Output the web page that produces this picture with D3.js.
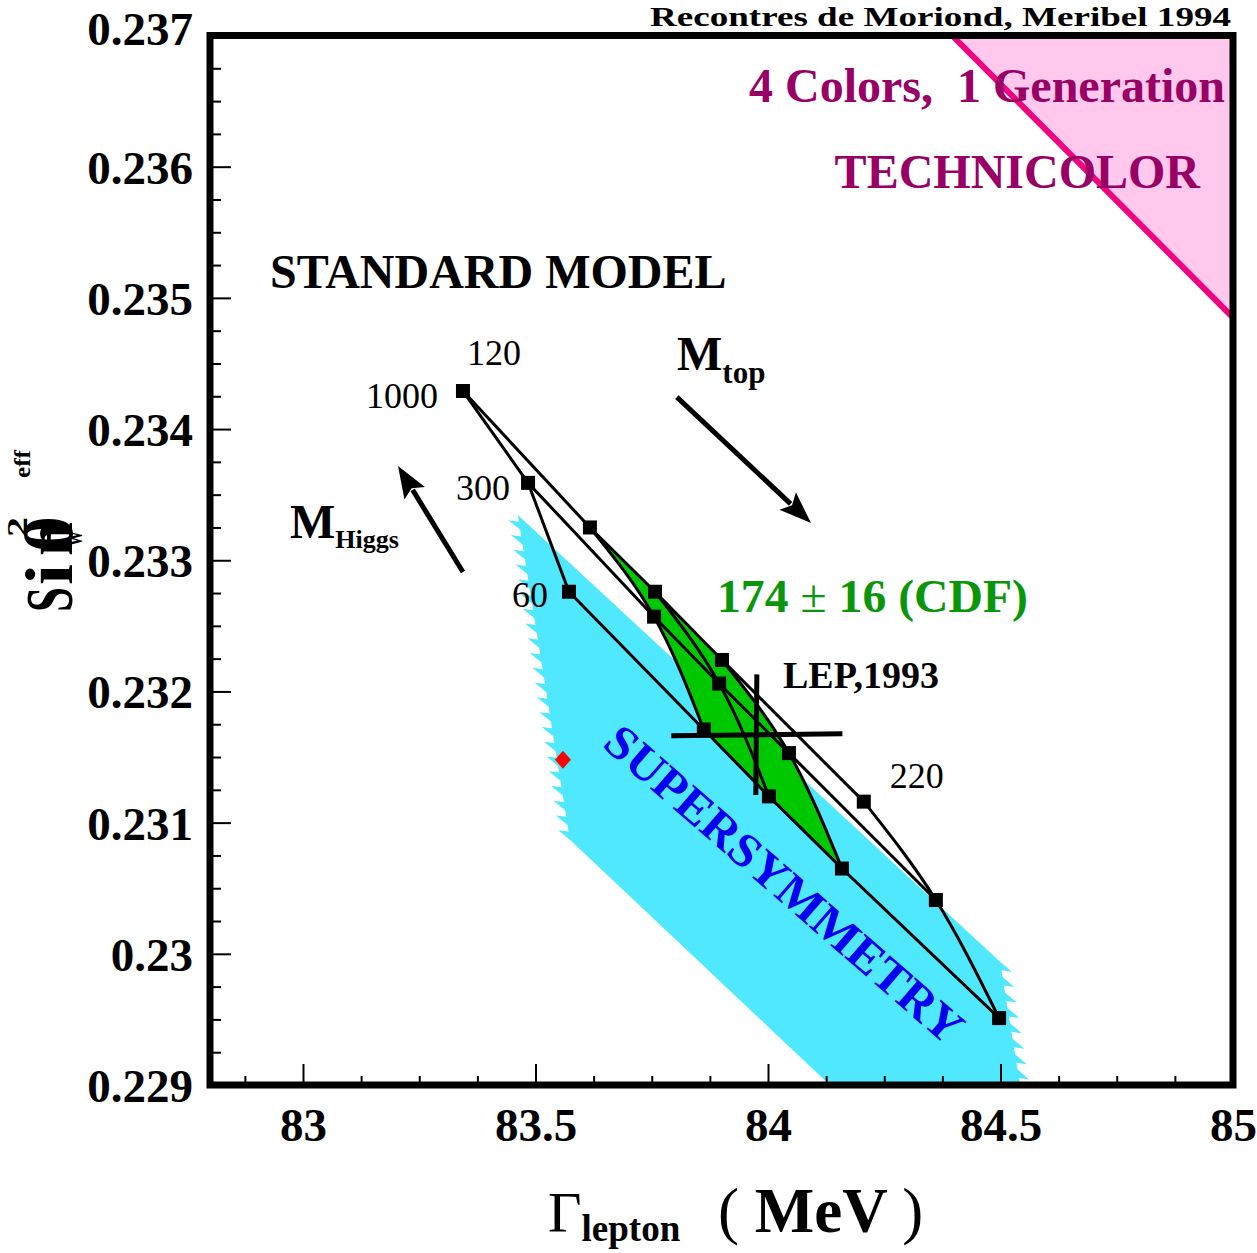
<!DOCTYPE html>
<html><head><meta charset="utf-8">
<script src="https://cdn.jsdelivr.net/npm/d3@7"></script>
<style>
body{margin:0;background:#fff;}
text{font-family:"Liberation Serif","Times New Roman",serif;white-space:pre;}
</style></head><body>
<svg id="chart" width="1257" height="1253"></svg>
<script>
// ---------- data ----------
const xTicks = [83, 83.5, 84, 84.5, 85];
const xTickLabels = ["83", "83.5", "84", "84.5", "85"];
const yTicks = [0.229, 0.230, 0.231, 0.232, 0.233, 0.234, 0.235, 0.236, 0.237];
const yTickLabels = ["0.229", "0.23", "0.231", "0.232", "0.233", "0.234", "0.235", "0.236", "0.237"];

const topMasses = [120, 158, 174, 190, 220];       // GeV
const higgsMasses = [60, 300, 1000];               // GeV
// rows: top mass, columns: Higgs mass
const gammaGrid = [
  [83.572, 83.484, 83.344],
  [83.862, 83.755, 83.617],
  [84.002, 83.895, 83.757],
  [84.159, 84.045, 83.901],
  [84.497, 84.361, 84.206]
];
const sin2Grid = [
  [0.23276, 0.23359, 0.23429],
  [0.23171, 0.23257, 0.23325],
  [0.23120, 0.23206, 0.23276],
  [0.23065, 0.23153, 0.23224],
  [0.22951, 0.23041, 0.23116]
];

const lepGamma = 83.976, lepGammaErr = 0.184;
const lepSin2 = 0.23167, lepSin2Err = 0.00046;

const susyPointGamma = 83.559, susyPointSin2 = 0.23148;
const susyGamma = [83.462, 84.499, 84.542, 84.133, 83.574];
const susySin2  = [0.233345, 0.22994, 0.2290, 0.2290, 0.23087];

const technicolorGamma = [84.396, 85.0, 85.0];
const technicolorSin2  = [0.2370, 0.2370, 0.23485];

const mtopArrowGamma = [83.804, 84.0925], mtopArrowSin2 = [0.234244, 0.233284];
const mhiggsArrowGamma = [83.344, 83.2043], mhiggsArrowSin2 = [0.23291, 0.233718];

// ---------- setup ----------
const svg = d3.select("#chart");
const X0 = 210, X1 = 1233, Y0 = 35.5, Y1 = 1085;
const x = d3.scaleLinear().domain([82.8, 85]).range([X0, X1]);
const y = d3.scaleLinear().domain([0.229, 0.237]).range([Y1, Y0]);

svg.append("defs").append("clipPath").attr("id", "plotclip")
  .append("rect").attr("x", X0).attr("y", Y0).attr("width", X1 - X0).attr("height", Y1 - Y0);
const plot = svg.append("g").attr("clip-path", "url(#plotclip)");

// technicolor region
const tcPts = technicolorGamma.map((g, i) => [x(g), y(technicolorSin2[i])]);
plot.append("path").attr("d", d3.line()(tcPts) + "Z").attr("fill", "#ffc8ec");
plot.append("line")
  .attr("x1", tcPts[0][0]).attr("y1", tcPts[0][1])
  .attr("x2", tcPts[2][0]).attr("y2", tcPts[2][1])
  .attr("stroke", "#f0037e").attr("stroke-width", 6);

// supersymmetry region with jagged edges
function jagged(p0, p1, side) {
  const dx = p1[0] - p0[0], dy = p1[1] - p0[1];
  const len = Math.hypot(dx, dy);
  const ux = dx / len, uy = dy / len;
  let nx = -uy, ny = ux;
  if (Math.sign(nx) !== side) { nx = -nx; ny = -ny; }
  const n = Math.max(1, Math.round(len / 15));
  const pts = [];
  for (let k = 0; k < n; k++) {
    const t = k / n;
    const bx = p0[0] + dx * t, by = p0[1] + dy * t;
    pts.push([bx, by]);
    const step = len / n;
    pts.push([bx + nx * 10 + ux * step * 0.75, by + ny * 10 + uy * step * 0.75]);
    pts.push([bx + ux * step * 0.55, by + uy * step * 0.55]);
  }
  pts.push(p1);
  return pts;
}
const sp = susyGamma.map((g, i) => [x(g), y(susySin2[i])]);
const susyOutline = [sp[0]]
  .concat(jagged(sp[1], sp[2], 1))
  .concat([[sp[2][0], sp[2][1] + 20], [sp[3][0] + 10, sp[3][1] + 20], sp[3], sp[4]])
  .concat(jagged(sp[4], sp[0], -1));
plot.append("path").attr("d", d3.line()(susyOutline) + "Z").attr("fill", "#50e8ff");

// grid point accessor
const P = (i, j) => [x(gammaGrid[i][j]), y(sin2Grid[i][j])];
const lineLin = d3.line();
const lineNat = d3.line().curve(d3.curveNatural);

// green band (174 +- 16)
const c158 = [P(1, 2), P(1, 1), P(1, 0)];
const c190 = [P(3, 0), P(3, 1), P(3, 2)];
const greenD = lineNat(c158) + "L" + P(2, 0).join(",") + lineNat(c190).replace("M", "L") + "L" + P(2, 2).join(",") + "Z";
plot.append("path").attr("d", greenD).attr("fill", "#00c800");

// SUPERSYMMETRY label (under lines)
svg.append("text").attr("transform", "translate(601,746) rotate(41)")
  .attr("font-size", 48).attr("font-weight", "bold").attr("fill", "#0000ee")
  .attr("textLength", 458).attr("lengthAdjust", "spacingAndGlyphs")
  .text("SUPERSYMMETRY");

// constant-Higgs lines
higgsMasses.forEach((mh, j) => {
  const pts = topMasses.map((mt, i) => P(i, j));
  plot.append("path").attr("d", lineLin(pts)).attr("fill", "none")
    .attr("stroke", "#000").attr("stroke-width", 3);
});
// constant-top curves
topMasses.forEach((mt, i) => {
  const pts = higgsMasses.map((mh, j) => P(i, j));
  plot.append("path").attr("d", (i === 0 ? lineLin : lineNat)(pts)).attr("fill", "none")
    .attr("stroke", "#000").attr("stroke-width", 3);
});
// markers
topMasses.forEach((mt, i) => higgsMasses.forEach((mh, j) => {
  const p = P(i, j);
  plot.append("rect").attr("x", p[0] - 7).attr("y", p[1] - 7)
    .attr("width", 14).attr("height", 14).attr("fill", "#000");
}));

// LEP cross
plot.append("line").attr("x1", x(lepGamma - lepGammaErr)).attr("x2", x(lepGamma + lepGammaErr))
  .attr("y1", y(lepSin2) + 1).attr("y2", y(lepSin2) - 1).attr("stroke", "#000").attr("stroke-width", 5);
plot.append("line").attr("x1", x(lepGamma)).attr("x2", x(lepGamma) - 1)
  .attr("y1", y(lepSin2 + lepSin2Err)).attr("y2", y(lepSin2 - lepSin2Err)).attr("stroke", "#000").attr("stroke-width", 5);

// red diamond
{
  const cx = x(susyPointGamma), cy = y(susyPointSin2);
  plot.append("path").attr("d", `M${cx},${cy - 9}L${cx + 8},${cy}L${cx},${cy + 9}L${cx - 8},${cy}Z`).attr("fill", "#ff0000");
}

// arrows
function arrow(gs, ss) {
  const a = [x(gs[0]), y(ss[0])], b = [x(gs[1]), y(ss[1])];
  const dx = b[0] - a[0], dy = b[1] - a[1], L = Math.hypot(dx, dy);
  const ux = dx / L, uy = dy / L, nx = -uy, ny = ux;
  const hl = 32, hw = 12;
  const base = [b[0] - ux * hl, b[1] - uy * hl];
  svg.append("line").attr("x1", a[0]).attr("y1", a[1]).attr("x2", base[0] + ux * 4).attr("y2", base[1] + uy * 4)
    .attr("stroke", "#000").attr("stroke-width", 5);
  svg.append("path").attr("d", `M${b[0]},${b[1]}L${base[0] + nx * hw},${base[1] + ny * hw}L${base[0] + ux * 6},${base[1] + uy * 6}L${base[0] - nx * hw},${base[1] - ny * hw}Z`)
    .attr("fill", "#000");
}
arrow(mtopArrowGamma, mtopArrowSin2);
arrow(mhiggsArrowGamma, mhiggsArrowSin2);

// mass labels
const lab = (txt, p, dx, dy, anchor) => svg.append("text").attr("x", p[0] + dx).attr("y", p[1] + dy)
  .attr("text-anchor", anchor).attr("font-size", 36).attr("fill", "#000").text(txt);
lab("120", P(0, 2), 4, -26, "start");
lab("1000", P(0, 2), -25, 17, "end");
lab("300", P(0, 1), -18, 17, "end");
lab("60", P(0, 0), -21, 15, "end");
lab("220", P(4, 2), 26, -14, "start");

// annotations
svg.append("text").attr("x", 1231).attr("y", 26).attr("text-anchor", "end")
  .attr("font-size", 28).attr("font-weight", "bold").attr("textLength", 581).attr("lengthAdjust", "spacingAndGlyphs")
  .text("Recontres de Moriond, Meribel 1994");
svg.append("text").attr("x", 1225).attr("y", 102).attr("text-anchor", "end")
  .attr("font-size", 48).attr("font-weight", "bold").attr("fill", "#990066")
  .text("4 Colors,  1 Generation");
svg.append("text").attr("x", 1200).attr("y", 188).attr("text-anchor", "end")
  .attr("font-size", 48).attr("font-weight", "bold").attr("fill", "#990066")
  .text("TECHNICOLOR");
svg.append("text").attr("x", 270).attr("y", 288)
  .attr("font-size", 48).attr("font-weight", "bold").attr("fill", "#000")
  .text("STANDARD MODEL");
{
  const t = svg.append("text").attr("x", 677).attr("y", 370).attr("font-weight", "bold").attr("fill", "#000");
  t.append("tspan").attr("font-size", 48).text("M");
  t.append("tspan").attr("font-size", 31).attr("dy", 13).text("top");
}
{
  const t = svg.append("text").attr("x", 290).attr("y", 538).attr("font-weight", "bold").attr("fill", "#000");
  t.append("tspan").attr("font-size", 48).text("M");
  t.append("tspan").attr("font-size", 26).attr("dy", 10).text("Higgs");
}
{
  const t = svg.append("text").attr("x", 717).attr("y", 612).attr("font-size", 47).attr("font-weight", "bold").attr("fill", "#0a960a")
    .attr("textLength", 311).attr("lengthAdjust", "spacingAndGlyphs");
  t.append("tspan").text("174 ");
  t.append("tspan").attr("font-weight", "normal").text("±");
  t.append("tspan").text(" 16 (CDF)");
}
svg.append("text").attr("x", 783).attr("y", 688)
  .attr("font-size", 38).attr("font-weight", "bold").attr("fill", "#000")
  .text("LEP,1993");

// ---------- axes ----------
const styleAxis = g => {
  g.select(".domain").remove();
  g.selectAll(".tick line").attr("stroke", "#000").attr("stroke-width", 2);
  g.selectAll(".tick text").attr("fill", "#000").attr("font-family", "'Liberation Serif', serif")
    .attr("font-weight", "bold").attr("font-size", 47);
};
const xMinor = d3.range(82.875, 85, 0.125).filter(v => Math.abs(v * 2 - Math.round(v * 2)) > 1e-6);
const yMinor = d3.range(0.22925, 0.237, 0.00025).filter(v => Math.abs(v * 1000 - Math.round(v * 1000)) > 1e-6);

svg.append("g").attr("transform", `translate(${X0},0)`)
  .call(d3.axisLeft(y).tickValues(yMinor).tickSize(-11).tickFormat(""))
  .call(styleAxis);
svg.append("g").attr("transform", `translate(${X0},0)`)
  .call(d3.axisLeft(y).tickValues(yTicks).tickSize(-21).tickPadding(17).tickFormat((d, i) => yTickLabels[i]))
  .call(styleAxis)
  .call(g => g.selectAll(".tick text").attr("dy", "0.35em")
    .attr("transform", d => d === 0.237 ? "translate(0,-7)" : null));

svg.append("g").attr("transform", `translate(0,${Y1})`)
  .call(d3.axisBottom(x).tickValues(xMinor).tickSize(-9).tickFormat(""))
  .call(styleAxis);
svg.append("g").attr("transform", `translate(0,${Y1})`)
  .call(d3.axisBottom(x).tickValues(xTicks).tickSize(-21).tickPadding(23).tickFormat((d, i) => xTickLabels[i]))
  .call(styleAxis);

// frame
svg.append("rect").attr("x", X0).attr("y", Y0).attr("width", X1 - X0).attr("height", Y1 - Y0)
  .attr("fill", "none").attr("stroke", "#000").attr("stroke-width", 7);

// axis titles
{
  const t = svg.append("text").attr("x", 548).attr("y", 1232).attr("fill", "#000");
  t.append("tspan").attr("font-size", 58).text("Γ");
  t.append("tspan").attr("font-size", 37).attr("font-weight", "bold").attr("dy", 9).text("lepton");
  const t2 = svg.append("text").attr("x", 718).attr("y", 1232).attr("fill", "#000").attr("font-size", 63);
  t2.append("tspan").text("(");
  t2.append("tspan").attr("font-weight", "bold").text(" MeV ");
  t2.append("tspan").text(")");
}
{
  const g = svg.append("g").attr("transform", "translate(72,612) rotate(-90)");
  const piece = (txt, px, py, fs, len, bold) => g.append("text").attr("x", px).attr("y", py)
    .attr("font-size", fs).attr("font-weight", bold ? "bold" : "normal")
    .attr("textLength", len).attr("lengthAdjust", "spacingAndGlyphs").attr("fill", "#000").text(txt);
  piece("S", 0, 0, 68, 25, true);
  piece("i", 27, 0, 68, 21, true);
  piece("n", 56, 0, 68, 34, true);
  piece("θ", 60, 0, 68, 36, true);
  piece("2", 75, -45, 30, 20, true);
  piece("W", 66, 10, 22, 15, true);
  piece("eff", 134, -42, 24, 28, true);
}
</script>
</body></html>
